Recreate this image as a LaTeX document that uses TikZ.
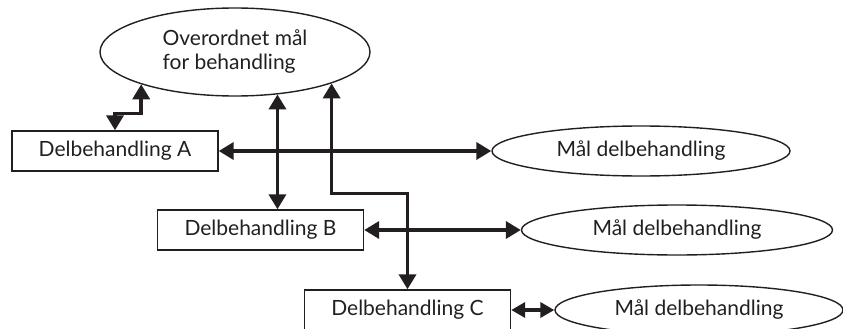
\documentclass[tikz,border=0pt]{standalone}
\usepackage{fontspec}
\setmainfont{Lato}
\usetikzlibrary{arrows.meta,shapes.geometric}
\definecolor{ink}{HTML}{231F20}
\tikzset{
  label text/.style={text=ink, font=\fontsize{21}{24}\selectfont},
  box/.style={draw=ink, line width=1.4pt, minimum width=206pt, minimum height=40pt, inner sep=0pt, label text},
  goal/.style={ellipse, draw=ink, line width=1.4pt, inner sep=0pt, label text},
  conn/.style={draw=ink, line width=3.6pt, {Triangle[length=15pt,width=17pt]}-{Triangle[length=15pt,width=17pt]}},
  shortconn/.style={draw=ink, line width=3.6pt, {Triangle[length=14pt,width=15pt]}-{Triangle[length=14pt,width=15pt]}}
}
\begin{document}
\begin{tikzpicture}[x=1pt,y=-1pt]
\useasboundingbox (0,0) rectangle (843,329);
% main goal
\node[goal, minimum width=270pt, minimum height=88pt, align=left] (top) at (235,52)
  {Overordnet mål\\for behandling};
% sub-treatments
\node[box] (A) at (115,151) {Delbehandling A};
\node[box] (B) at (260.5,230) {Delbehandling B};
\node[box] (C) at (407.5,310) {Delbehandling C};
% goals of the sub-treatments
\node[goal, minimum width=298pt, minimum height=50pt] (gA) at (641,151) {Mål delbehandling};
\node[goal, minimum width=311pt, minimum height=50pt] (gB) at (677,230) {Mål delbehandling};
\node[goal, minimum width=288pt, minimum height=50pt] (gC) at (699,310) {Mål delbehandling};
% connectors
\draw[conn] (top.199) -- ++(0,29) -| (A.north);
\draw[conn] (top.315) -- (top.315 |- B.north);
\draw[conn] (top.342) -- ++(0,110) -| (C.north);
\draw[conn] (A.east) -- (gA.west);
\draw[conn] (B.east) -- (gB.west);
\draw[shortconn] (C.east) -- (gC.west);
\end{tikzpicture}
\end{document}
